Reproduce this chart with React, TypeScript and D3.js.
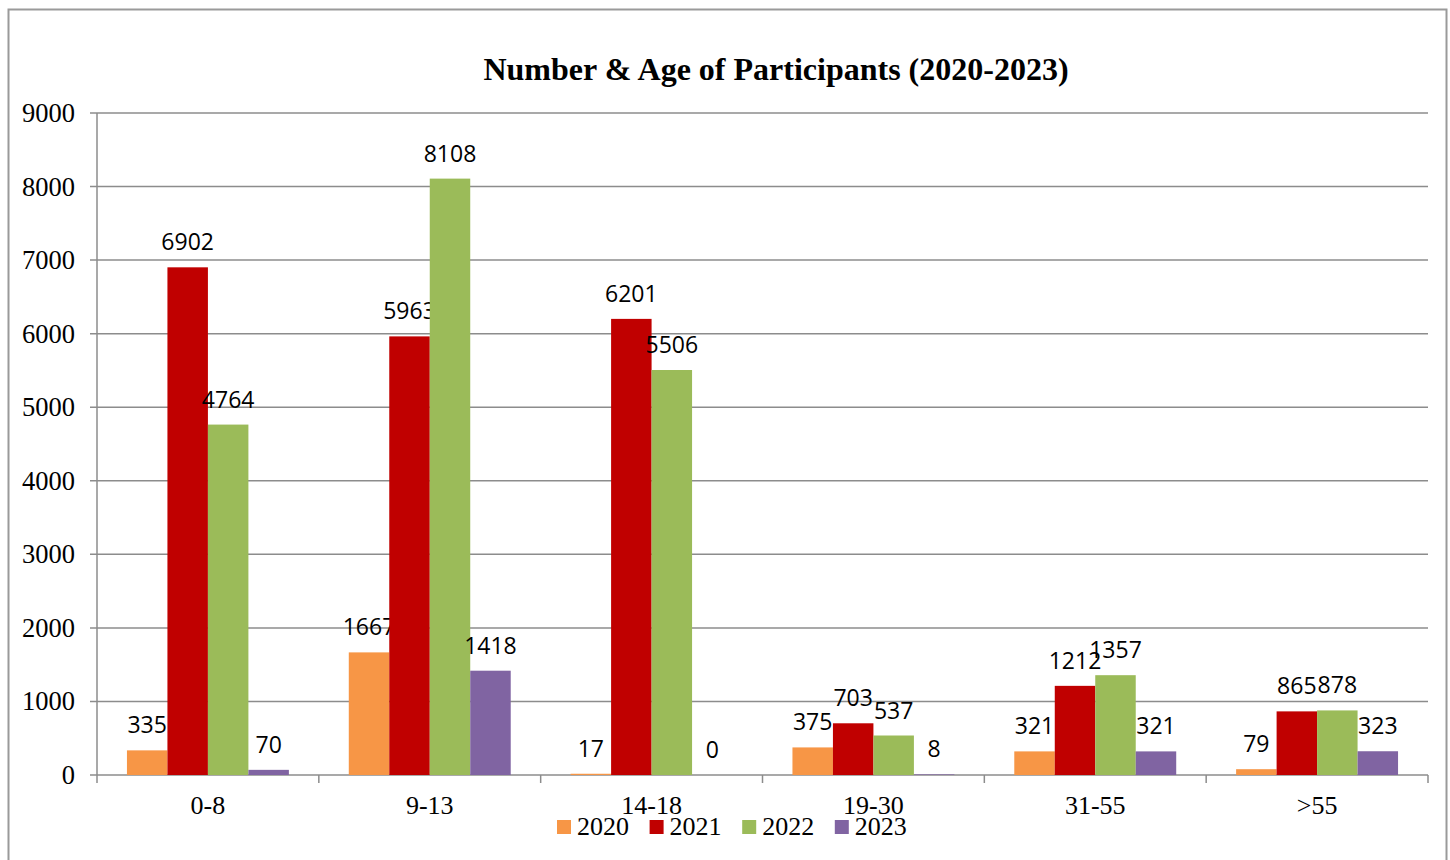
import * as React from 'react';
import * as d3 from 'd3';

const categories = ['0-8', '9-13', '14-18', '19-30', '31-55', '>55'];
const years = ['2020', '2021', '2022', '2023'];
const values2020 = [335, 1667, 17, 375, 321, 79];
const values2021 = [6902, 5963, 6201, 703, 1212, 865];
const values2022 = [4764, 8108, 5506, 537, 1357, 878];
const values2023 = [70, 1418, 0, 8, 321, 323];
const yTicks = [0, 1000, 2000, 3000, 4000, 5000, 6000, 7000, 8000, 9000];
const colors = ['#F79646', '#C00000', '#9BBB59', '#8064A2'];

const series = [values2020, values2021, values2022, values2023];

export default function App() {
    const left = 97, right = 1428, top = 113, bottom = 775;
    const serif = '"Liberation Serif", "Times New Roman", serif';
    const sans = '"Open Sans", "Noto Sans", sans-serif';

    const x0 = d3.scaleBand<string>().domain(categories).range([left, right]).paddingInner(0.27).paddingOuter(0.135);
    const x1 = d3.scaleBand<string>().domain(years).range([0, x0.bandwidth()]);
    const y = d3.scaleLinear().domain([0, 9000]).range([bottom, top]);
    const step = (right - left) / categories.length;

    return (
        <svg width={1450} height={860} style={{ position: 'absolute', left: 0, top: 0, background: '#fff' }}>
            <rect x={8.5} y={9.5} width={1438} height={860} fill="#fff" stroke="#9a9a9a" strokeWidth={2} />
            <text x={776} y={80} textAnchor="middle" fontFamily={serif} fontWeight="bold" fontSize={32}>
                Number &amp; Age of Participants (2020-2023)
            </text>
            {yTicks.map((t) => (
                <g key={t}>
                    <line x1={90} x2={right} y1={y(t)} y2={y(t)} stroke="#8c8c8c" strokeWidth={1.5} />
                    <text x={75} y={y(t) + 9} textAnchor="end" fontFamily={serif} fontSize={26.5}>{t}</text>
                </g>
            ))}
            <line x1={left} x2={left} y1={top} y2={bottom} stroke="#8c8c8c" strokeWidth={1.5} />
            {d3.range(categories.length + 1).map((i) => (
                <line key={i} x1={left + i * step} x2={left + i * step} y1={bottom} y2={bottom + 8} stroke="#8c8c8c" strokeWidth={1.5} />
            ))}
            {categories.map((c, ci) => (
                <g key={c}>
                    {series.map((s, si) => {
                        const bx = (x0(c) as number) + (x1(years[si]) as number);
                        const by = y(s[ci]);
                        return (
                            <g key={si}>
                                <rect x={bx} y={by} width={x1.bandwidth()} height={bottom - by} fill={colors[si]} />
                                <text x={bx + x1.bandwidth() / 2} y={by - 17} textAnchor="middle" fontFamily={sans} fontSize={23}>{s[ci]}</text>
                            </g>
                        );
                    })}
                    <text x={(x0(c) as number) + x0.bandwidth() / 2} y={814} textAnchor="middle" fontFamily={serif} fontSize={26}>{c}</text>
                </g>
            ))}
            {years.map((yr, i) => {
                const lx = 557 + i * 92.6;
                return (
                    <g key={yr}>
                        <rect x={lx} y={820} width={14} height={14} fill={colors[i]} />
                        <text x={lx + 20} y={835} fontFamily={serif} fontSize={26}>{yr}</text>
                    </g>
                );
            })}
        </svg>
    );
}
